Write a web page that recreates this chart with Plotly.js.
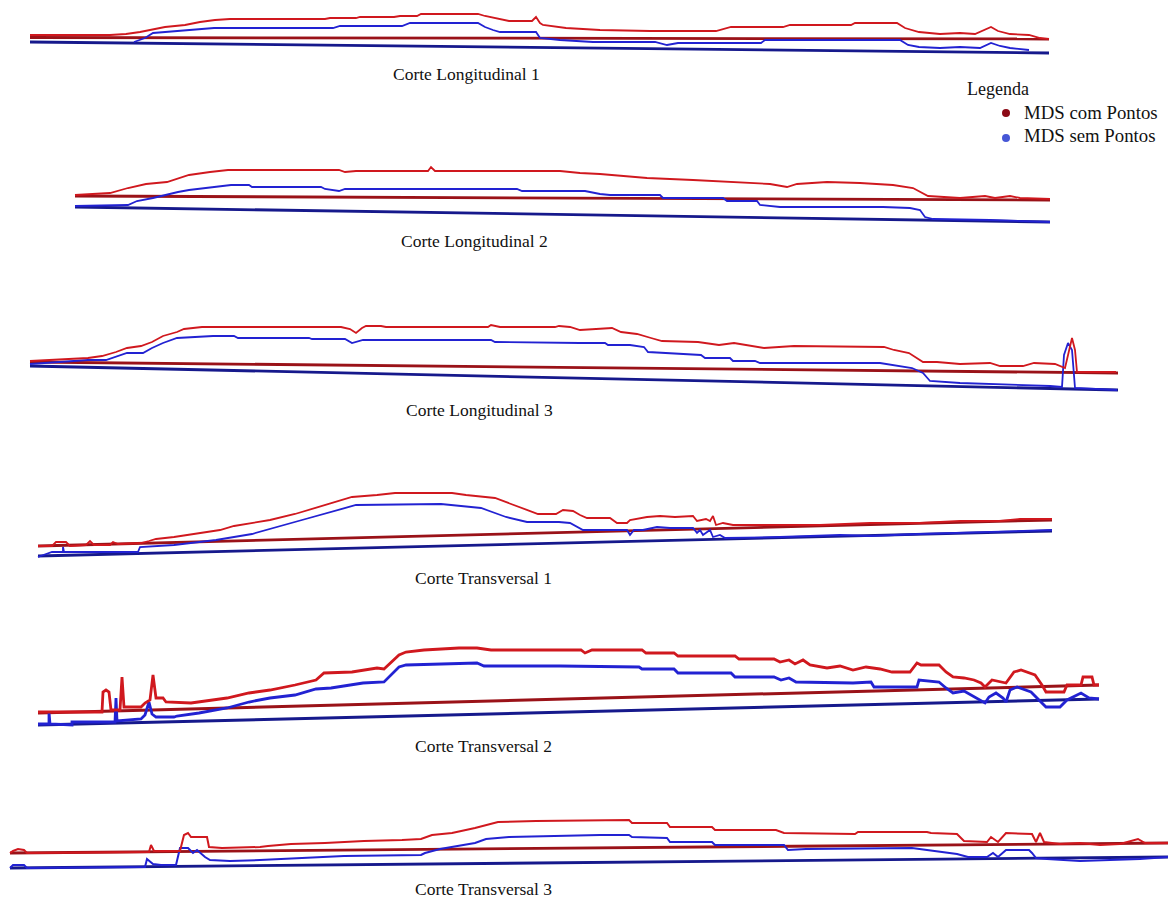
<!DOCTYPE html>
<html><head><meta charset="utf-8">
<script src="https://cdn.plot.ly/plotly-3.0.1.min.js"></script>
<style>html,body{margin:0;padding:0;background:#fff}#chart{width:1171px;height:899px}</style>
</head><body><div id="chart"></div>
<script>
// ---- Corte Longitudinal 1 (distância m, cota m) ----
const L1_comX = [0,80,96,110,135,155,170,185,200,295,300,326,330,364,370,387,391,448,455,470,479,502,506,510,513,536,570,620,686,701,753,760,821,825,867,875,889,910,930,945,955,961,968,980,999,1010,1019];
const L1_comY = [25,25,26,28,33,35,38,40,41,41,42,42,43,43,44,44,46,46,44,41,39,39,43,37,35,32,30,29,29,33,33,35,35,37,37,32,28,26,27,26,30,33,29,26,25,22,21];
const L1_semX = [104,115,123,150,184,303,310,372,380,448,455,463,470,506,510,530,563,625,637,648,731,735,870,878,889,910,930,950,961,970,980,999];
const L1_semY = [18,22,27,29,32,32,34,34,37,37,33,30,28,28,22,20,18,18,15,17,17,20,20,15,13,12,13,12,17,14,12,10];
const L1_baseX = [0,1019];
const L1_baseComY = [22.5,21];
const L1_baseSemY = [18,7];

// ---- Corte Longitudinal 2 ----
const L2_comX = [0,35,53,71,92,114,135,153,264,270,281,353,356,360,485,505,525,572,618,655,695,712,722,752,785,818,838,853,885,910,920,935,945,975];
const L2_comY = [35,37,42,46,48,55,58,60,60,58,59,59,63,59,59,57,56,52,50,48,46,43,46,48,47,45,42,34,32,34,32,34,32,31];
const L2_semX = [0,53,62,78,103,114,156,174,177,246,250,264,270,442,447,510,525,535,585,588,648,652,682,685,705,808,835,845,850,858,915,975];
const L2_semY = [24,25,29,32,38,40,45,45,43,43,41,39,41,41,39,39,36,35,35,32,32,29,29,25,23,23,22,20,13,11,10,8];
const L2_baseX = [0,975];
const L2_baseComY = [34,30];
const L2_baseSemY = [23,8];

// ---- Corte Longitudinal 3 ----
const L3_comX = [0,58,72,86,97,111,122,133,147,154,172,311,320,326,332,336,351,356,458,461,470,525,529,540,550,582,591,607,621,632,668,689,704,725,734,764,854,864,879,893,907,930,960,970,993,1004,1025,1035,1039,1042,1045,1047,1086];
const L3_comY = [39,42,44,48,52,54,58,64,68,71,73,73,71,67,72,74,74,73,73,75,73,73,74,73,70,72,68,66,62,59,58,55,57,54,52,54,53,50,47,38,38,36,37,34,34,37,36,32,50,62,50,28,28];
const L3_semX = [0,58,76,86,97,113,122,133,147,183,204,208,279,282,315,322,333,461,465,550,575,578,600,614,618,671,675,700,703,725,730,850,864,882,893,900,930,970,1000,1020,1032,1034,1038,1042,1045,1087];
const L3_semY = [36,40,40,43,47,47,52,57,62,64,64,62,62,61,61,57,60,60,58,57,57,55,55,53,48,45,42,42,39,39,37,37,35,32,27,19,17,16,15,14,13,45,57,50,12,10];
const L3_baseX = [0,1088];
const L3_baseComY = [38,27];
const L3_baseSemY = [34,10];

// ---- Corte Transversal 1 ----
const T1_comX = [0,14,18,28,32,48,52,56,72,75,80,103,111,118,136,161,182,196,232,257,278,293,314,339,357,414,428,457,471,489,500,518,525,535,542,549,572,579,589,592,609,622,637,655,659,668,672,675,678,685,695,742,782,832,882,922,962,982,1014];
const T1_comY = [24,24,28,28,24,25,29,25,25,28,26,27,29,31,33,37,40,44,50,56,62,67,73,75,77,77,75,72,67,60,56,56,60,59,55,52,52,47,47,50,53,54,53,54,49,51,49,54,45,47,45,45,45,47,47,49,49,51,51];
const T1_semX = [0,14,25,25,26,62,100,102,136,178,214,264,293,318,403,443,468,489,521,532,545,589,592,596,605,619,632,655,659,662,665,672,675,682,687,742,802,832,882,962,1014];
const T1_semY = [13,18,18,23,18,18,18,23,25,30,36,50,58,65,66,62,53,48,48,47,40,40,35,40,40,43,42,42,37,40,35,40,33,35,32,33,35,34,36,38,40];
const T1_baseX = [0,1014];
const T1_baseComY = [24,50];
const T1_baseSemY = [14,39];

// ---- Corte Transversal 2 ----
const T2_comX = [0,64,65,68,71,73,82,84,86,103,107,112,115,118,125,128,153,168,189,211,232,257,278,286,314,339,346,361,368,386,421,439,453,543,547,554,604,608,636,640,697,701,736,742,751,757,765,772,789,802,815,828,842,854,872,879,883,901,908,915,926,936,943,947,954,968,976,983,997,1004,1008,1026,1029,1043,1045,1054,1056,1061];
const T2_comY = [28,28,48,50,48,30,30,63,33,33,37,40,65,42,42,38,37,39,42,47,50,55,60,67,68,72,71,85,88,90,92,92,90,90,87,90,90,87,87,84,84,81,81,78,80,76,80,75,72,74,70,73,71,68,68,77,75,75,68,63,62,60,57,53,60,57,68,70,65,55,48,48,55,55,63,63,55,55];
const T2_semX = [0,11,11,12,34,34,77,78,79,103,107,111,114,118,136,139,161,189,211,232,257,278,293,325,346,361,368,421,439,446,522,601,604,636,640,693,697,736,743,751,758,815,833,836,879,881,901,908,915,926,936,947,951,958,965,968,972,979,993,1001,1008,1022,1029,1043,1051,1061];
const T2_semY = [16,16,28,16,15,18,18,42,19,21,25,38,26,23,23,24,27,32,38,42,45,51,52,57,58,73,75,77,77,74,74,73,71,71,67,67,63,63,60,62,58,57,58,53,53,60,58,52,47,49,43,37,43,47,42,38,50,53,48,40,33,33,40,47,42,41];
const T2_baseX = [0,1061];
const T2_baseComY = [27,55];
const T2_baseSemY = [15,41];

// ---- Corte Transversal 3 ----
const T3_comX = [0,3,8,14,17,139,141,144,170,174,178,181,197,199,212,250,258,281,315,354,392,411,422,442,465,476,488,526,590,619,622,657,660,702,705,766,774,845,848,917,921,947,954,977,981,988,996,1022,1026,1030,1034,1050,1070,1090,1110,1128,1135,1158];
const T3_comY = [27,29,31,30,27,28,35,29,29,45,47,43,43,33,32,33,34,36,37,39,40,41,45,47,52,55,58,59,60,60,57,57,53,53,50,50,47,46,48,48,47,46,39,38,43,38,47,46,38,47,38,36,37,35,36,41,37,37];
const T3_semX = [0,3,14,17,135,137,143,151,166,170,178,183,187,195,200,220,250,290,334,411,415,430,465,476,499,590,619,622,657,660,702,705,774,778,796,902,932,947,958,977,983,988,996,1019,1022,1026,1037,1070,1100,1130,1158];
const T3_semY = [12,15,15,12,13,21,16,15,15,32,32,27,30,23,20,19,20,22,24,25,27,31,37,41,43,45,45,43,42,38,38,35,35,30,31,32,28,26,23,23,27,23,30,30,27,22,21,19,20,21,23];
const T3_baseX = [0,1158];
const T3_baseComY = [27,37];
const T3_baseSemY = [12,23];

const titulos = ["Corte Longitudinal 1","Corte Longitudinal 2","Corte Longitudinal 3","Corte Transversal 1","Corte Transversal 2","Corte Transversal 3"];
const legendaTitulo = "Legenda";
const legendaItens = ["MDS com Pontos","MDS sem Pontos"];

// ---- layout geometry (pixels) ----
const W = 1171, H = 899;
const panels = [
  {id:"", comX:L1_comX, comY:L1_comY, semX:L1_semX, semY:L1_semY, bX:L1_baseX, bC:L1_baseComY, bS:L1_baseSemY, left:30, top:0, bottom:60, tx:466, ty:74, lw:1.8, bw:2.8},
  {id:"2", comX:L2_comX, comY:L2_comY, semX:L2_semX, semY:L2_semY, bX:L2_baseX, bC:L2_baseComY, bS:L2_baseSemY, left:75, top:150, bottom:230, tx:474, ty:241, lw:1.8, bw:2.8},
  {id:"3", comX:L3_comX, comY:L3_comY, semX:L3_semX, semY:L3_semY, bX:L3_baseX, bC:L3_baseComY, bS:L3_baseSemY, left:30, top:310, bottom:400, tx:479, ty:410, lw:1.8, bw:2.8},
  {id:"4", comX:T1_comX, comY:T1_comY, semX:T1_semX, semY:T1_semY, bX:T1_baseX, bC:T1_baseComY, bS:T1_baseSemY, left:38, top:480, bottom:570, tx:483, ty:578, lw:1.8, bw:2.8},
  {id:"5", comX:T2_comX, comY:T2_comY, semX:T2_semX, semY:T2_semY, bX:T2_baseX, bC:T2_baseComY, bS:T2_baseSemY, left:38, top:630, bottom:740, tx:483, ty:746, lw:2.8, bw:3},
  {id:"6", comX:T3_comX, comY:T3_comY, semX:T3_semX, semY:T3_semY, bX:T3_baseX, bC:T3_baseComY, bS:T3_baseSemY, left:10, top:800, bottom:880, tx:483, ty:889, lw:2, bw:2.8}
];

const RED = "#d0181e", RED_BASE = "#9a1218", BLUE = "#2222d2", BLUE_BASE = "#16198c";
const traces = [];
const layout = {
  width: W, height: H, margin:{l:0,r:0,t:0,b:0,pad:0},
  paper_bgcolor:"#fff", plot_bgcolor:"rgba(0,0,0,0)", showlegend:false,
  font:{family:"Liberation Serif, Times New Roman, serif", color:"#111"},
  annotations:[], shapes:[]
};
panels.forEach(p => {
  const xa = "x"+p.id, ya = "y"+p.id;
  const common = {xaxis:xa, yaxis:ya, mode:"lines", hoverinfo:"skip"};
  traces.push(Object.assign({x:p.bX, y:p.bC, line:{color:RED_BASE, width:p.bw}}, common));
  traces.push(Object.assign({x:p.bX, y:p.bS, line:{color:BLUE_BASE, width:p.bw}}, common));
  traces.push(Object.assign({x:p.semX, y:p.semY, line:{color:BLUE, width:p.lw}}, common));
  traces.push(Object.assign({x:p.comX, y:p.comY, line:{color:RED, width:p.lw}}, common));
  layout["xaxis"+p.id] = {domain:[0,1], range:[-p.left, W-p.left], visible:false, fixedrange:true, anchor:ya};
  layout["yaxis"+p.id] = {domain:[1-p.bottom/H, 1-p.top/H], range:[0, p.bottom-p.top], visible:false, fixedrange:true, anchor:xa};
});
panels.forEach((p,i) => {
  layout.annotations.push({xref:"paper", yref:"paper", x:p.tx/W, y:1-p.ty/H, xanchor:"center", yanchor:"middle",
    text:titulos[i], showarrow:false, font:{size:17.5, color:"#111", family:"Liberation Serif, serif"}});
});
layout.annotations.push({xref:"paper", yref:"paper", x:965/W, y:1-89/H, xanchor:"left", yanchor:"middle",
  text:legendaTitulo, showarrow:false, font:{size:18, color:"#111", family:"Liberation Serif, serif"}});
layout.annotations.push({xref:"paper", yref:"paper", x:1022/W, y:1-112/H, xanchor:"left", yanchor:"middle",
  text:legendaItens[0], showarrow:false, font:{size:18.8, color:"#111", family:"Liberation Serif, serif"}});
layout.annotations.push({xref:"paper", yref:"paper", x:1022/W, y:1-136/H, xanchor:"left", yanchor:"middle",
  text:legendaItens[1], showarrow:false, font:{size:18.8, color:"#111", family:"Liberation Serif, serif"}});
[[1006,113,"#8c0a16"],[1006,138,"#4657d6"]].forEach(d => {
  layout.shapes.push({type:"circle", xref:"paper", yref:"paper", x0:(d[0]-4)/W, x1:(d[0]+4)/W, y0:1-(d[1]+4)/H, y1:1-(d[1]-4)/H,
    fillcolor:d[2], line:{width:0}});
});
Plotly.newPlot("chart", traces, layout, {staticPlot:true, displayModeBar:false});
</script></body></html>
